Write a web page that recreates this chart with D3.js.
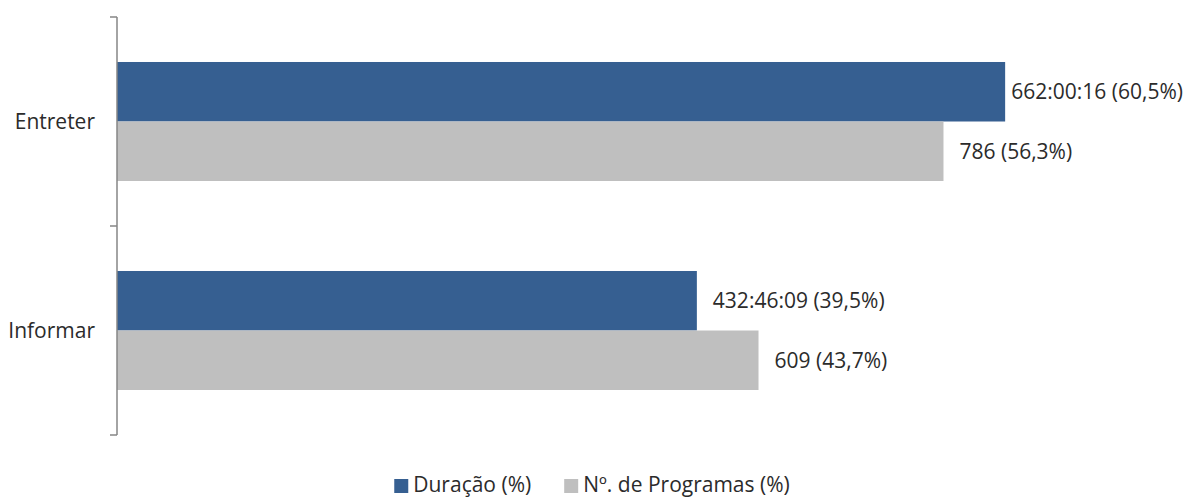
<!DOCTYPE html>
<html><head><meta charset="utf-8">
<script src="https://cdn.jsdelivr.net/npm/d3@7"></script>
<style>body{margin:0;background:#fff}svg{display:block}text{font-family:"Open Sans",sans-serif;fill:#2b2b2b}</style>
</head><body><svg id="c" width="1184" height="497"></svg>
<script>
const categories = ["Entreter", "Informar"];
const series = ["Duração (%)", "Nº. de Programas (%)"];
const duracaoPct = [60.5, 39.5];
const programasPct = [56.3, 43.7];
const duracaoLabels = ["662:00:16 (60,5%)", "432:46:09 (39,5%)"];
const programasLabels = ["786 (56,3%)", "609 (43,7%)"];
const colors = ["#365f91", "#bfbfbf"];

(function() {
const W = 1184, H = 497, FS = "21px";
const svg = d3.select("#c");
const mLeft = 117, mTop = 17, mBottom = 435;
const x = d3.scaleLinear().domain([0, 70]).range([mLeft, mLeft + 70 * 14.68]);
const y0 = d3.scaleBand().domain(categories).range([mTop, mBottom]).paddingInner(0.4306).paddingOuter(0.2153);
const y1 = d3.scaleBand().domain(series).range([0, y0.bandwidth()]);

const vals = [duracaoPct, programasPct];
const labs = [duracaoLabels, programasLabels];
const rows = [];
categories.forEach((c, i) => series.forEach((s, j) => rows.push({c, s, j, v: vals[j][i], l: labs[j][i]})));

svg.selectAll("rect.bar").data(rows).join("rect").attr("class", "bar")
  .attr("x", x(0)).attr("y", d => y0(d.c) + y1(d.s))
  .attr("width", d => x(d.v) - x(0)).attr("height", y1.bandwidth())
  .attr("fill", d => colors[d.j]);

svg.selectAll("text.lab").data(rows).join("text").attr("class", "lab")
  .attr("y", d => y0(d.c) + y1(d.s) + y1.bandwidth() / 2)
  .attr("dy", "0.35em").style("font-size", FS)
  .text(d => d.l)
  .attr("x", function(d) {
    const w = this.getComputedTextLength();
    return Math.min(x(d.v) + 16, W - 1 - w);
  });

const yScaleAxis = d3.scaleBand().domain(categories).range([mTop, mBottom]);
const ax = svg.append("g").attr("transform", `translate(${mLeft},0)`);
ax.append("line").attr("x1", 0).attr("x2", 0).attr("y1", mTop).attr("y2", mBottom).attr("stroke", "#868686").attr("stroke-width", 1.5);
const tickYs = [mTop].concat(categories.map(c => yScaleAxis(c) + yScaleAxis.bandwidth()));
ax.selectAll("line.t").data(tickYs).join("line").attr("class", "t")
  .attr("x1", -7).attr("x2", 0).attr("y1", d => d).attr("y2", d => d)
  .attr("stroke", "#868686").attr("stroke-width", 1.5);
ax.selectAll("text.cat").data(categories).join("text").attr("class", "cat")
  .attr("x", -22).attr("y", c => y0(c) + y0.bandwidth() / 2)
  .attr("dy", "0.35em").attr("text-anchor", "end").style("font-size", FS)
  .text(c => c);

const lg = svg.append("g");
const items = lg.selectAll("g").data(series).join("g");
items.append("rect").attr("width", 14).attr("height", 14).attr("y", 479).attr("fill", (d, i) => colors[i]);
items.append("text").attr("x", 19).attr("y", 485).attr("dy", "0.35em").style("font-size", FS).text(d => d);
let cx = 0; const gaps = [];
items.each(function(d, i) {
  const w = 19 + this.querySelector("text").getComputedTextLength();
  gaps.push(cx); cx += w + (i < series.length - 1 ? 33 : 0);
});
const startX = (W - cx) / 2;
items.attr("transform", (d, i) => `translate(${startX + gaps[i]},0)`);
})();
</script></body></html>
